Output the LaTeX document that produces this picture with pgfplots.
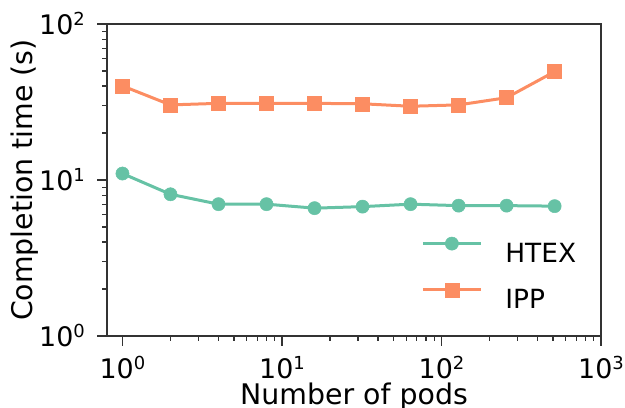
\documentclass[border=0pt]{standalone}
\usepackage{pgfplots}
\pgfplotsset{compat=1.18}
\usepackage{fontspec}
\setmainfont{DejaVu Sans}
\definecolor{htex}{HTML}{66C2A5}
\definecolor{ipp}{HTML}{FC8D62}
\definecolor{frame}{HTML}{333333}
% power-of-ten tick label in the text font
\newcommand{\tp}[1]{10\raisebox{9bp}{\fontsize{18}{20}\selectfont #1}}
\begin{document}
\begin{tikzpicture}[x=1bp,y=1bp]
\begin{axis}[
  scale only axis,
  width=494bp, height=312bp,
  xmode=log, ymode=log,
  xmin=0.8, xmax=1000,
  ymin=1, ymax=100,
  xtick={1,10,100,1000},
  xticklabels={\tp{0},\tp{1},\tp{2},\tp{3}},
  ytick={1,10,100},
  yticklabels={\tp{0},\tp{1},\tp{2}},
  tick align=outside,
  tick pos=left,
  major tick length=10bp,
  minor tick length=5bp,
  every tick/.style={frame, line width=1.2bp},
  axis line style={frame, line width=1.8bp},
  tick label style={font=\fontsize{27}{30}\selectfont, text=black, inner sep=0pt},
  xticklabel style={anchor=base, yshift=-33bp},
  yticklabel style={anchor=base east, xshift=-12bp, yshift=-10.7bp},
  xlabel={Number of pods},
  ylabel={Completion time (s)},
  label style={font=\fontsize{28.5}{32}\selectfont, inner sep=0pt},
  xlabel style={at={(axis description cs:0.5,0)}, anchor=base, yshift=-68bp},
  ylabel style={at={(axis description cs:0,0.5)}, anchor=base, yshift=74bp},
  legend style={at={(axis description cs:0.636,0.318)}, anchor=north west,
                draw=none, fill=none, inner sep=0pt, row sep=19.3bp, column sep=0bp,
                font=\fontsize{26.5}{30}\selectfont,
                nodes={inner sep=0pt}},
  legend cell align={left},
  legend image code/.code={
    \draw[#1, mark repeat=2, mark phase=2] plot coordinates {(0bp,9.7bp) (29bp,9.7bp) (58bp,9.7bp)};
    \path (81bp,9.7bp);
  },
]
\addplot[htex, line width=3bp, mark=*, mark size=6.6bp, mark options={fill=htex, draw=htex, line width=0.5bp}]
  coordinates {(1,11.0) (2,8.1) (4,7.0) (8,7.0) (16,6.6) (32,6.75) (64,7.0) (128,6.85) (256,6.85) (512,6.8)};
\addlegendentry{HTEX}
\addplot[ipp, line width=3bp, mark=square*, mark size=7bp, mark options={fill=ipp, draw=ipp, line width=0.5bp}]
  coordinates {(1,40.1) (2,30.3) (4,31) (8,31) (16,31) (32,30.8) (64,29.7) (128,30.3) (256,33.7) (512,49.5)};
\addlegendentry{IPP}
\end{axis}
\pgfresetboundingbox
\path[use as bounding box] (-107bp,-72bp) rectangle (518bp,336bp);
\end{tikzpicture}
\end{document}
